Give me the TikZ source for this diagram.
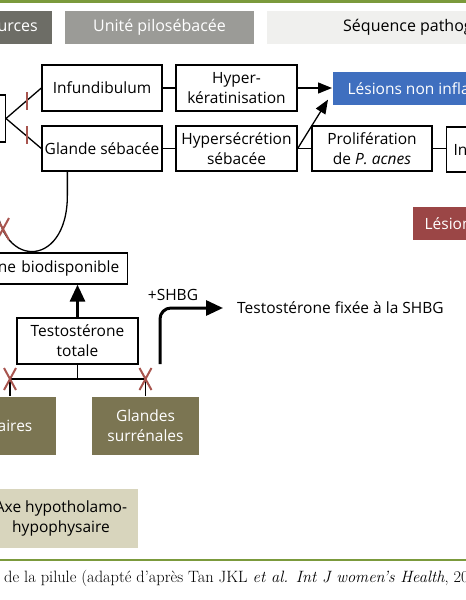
\documentclass[tikz,border=0pt]{standalone}
\usepackage{fontspec}
\setsansfont{Open Sans}
\usepackage{tikz}
\usetikzlibrary{arrows.meta}
\usetikzlibrary{calc}

\definecolor{rulegreen}{HTML}{7B9A3C}
\definecolor{hdrdark}{HTML}{6D6D66}
\definecolor{hdrmid}{HTML}{9B9B97}
\definecolor{hdrlight}{HTML}{F0F0EE}
\definecolor{lesblue}{HTML}{3F6FBF}
\definecolor{lesred}{HTML}{9B4646}
\definecolor{olive}{HTML}{7B7552}
\definecolor{beige}{HTML}{D8D5BD}
\definecolor{xred}{HTML}{A8554F}

\begin{document}
\begin{tikzpicture}[x=1pt,y=-1pt,
        box/.style={draw,line width=1.3pt,align=center,inner sep=0pt,
            font=\sffamily\fontsize{15.5}{20}\selectfont},
        hdr/.style={minimum height=33pt,inner ysep=0pt,
            font=\sffamily\fontsize{16}{20}\selectfont},
        link/.style={line width=1.3pt},
        slimarrow/.style={line width=1.3pt,-{Triangle[length=14pt,width=11pt]}},
        fatarrow/.style={line width=3pt,-{Triangle[length=17pt,width=15pt]}},
        redmark/.style={draw=xred,line width=2pt}]
        \path[use as bounding box,clip] (0,0) rectangle (466,600);

        % rules top and bottom
        \draw[rulegreen,line width=2.5pt] (0,1.5) -- (466,1.5);
        \draw[rulegreen,line width=2.5pt] (0,560) -- (466,560);

        % header line
        \node[hdr,fill=hdrdark,text=white,anchor=east,inner xsep=14pt] (hsrc) at (52,27.5) {urces};
        \node[hdr,fill=hdrmid,text=white,minimum width=189pt] (hunit) at (159.5,27.5) {Unité pilosébacée};
        \node[hdr,fill=hdrlight,anchor=west,inner xsep=76pt] (hseq) at (267,27.5) {Séquence pathog};

        % upper rows
        \node[box,minimum width=46pt,minimum height=47pt,anchor=east] (src) at (6,118.5) {};
        \node[box,minimum width=120pt,minimum height=46pt] (infu) at (102,88) {Infundibulum};
        \node[box,minimum width=120pt,minimum height=45pt] (glande) at (102,148.5) {Glande sébacée};
        \node[box,minimum width=121pt,minimum height=46pt] (hyperk) at (236.5,88) {Hyper-\\kératinisation};
        \node[box,minimum width=121pt,minimum height=45pt] (hypers) at (236.5,148.5) {Hypersécrétion\\sébacée};
        \node[box,minimum width=120pt,minimum height=45pt] (prolif) at (372,148.5) {Prolifération\\de \textit{P. acnes}};
        \node[box,minimum height=45pt,anchor=west,inner xsep=7pt] (inflam) at (446,149.5) {In};
        \node[box,draw=none,fill=lesblue,text=white,minimum height=33pt,anchor=west,inner xsep=15pt] (lnonin) at (332,88.5) {Lésions non infla};
        \node[box,draw=none,fill=lesred,text=white,minimum height=33pt,anchor=west,inner xsep=12pt] (linfl) at (412,223.5) {Lésion};

        \coordinate (fork) at (src.east);
        \draw[link] (fork) -- (infu.west);
        \draw[link] (fork) -- (glande.west);
        \draw[link] (infu) -- (hyperk);
        \draw[link] (glande) -- (hypers);
        \draw[link] (hypers) -- (prolif);
        \draw[link] (prolif.east) -- (inflam.west |- prolif.east);
        \draw[slimarrow] (hyperk.east) -- (hyperk.east -| lnonin.west);
        \draw[slimarrow] (hypers.east) -- ([xshift=-4pt,yshift=6pt]lnonin.south west);
        % blocked links
        \draw[redmark] (27,92) -- (27,110);
        \draw[redmark] (27,126) -- (27,144);

        % loop from the gland
        \coordinate (gbot) at ($(glande.south west)+(26,0)$);
        \draw[link] (gbot) -- ++(0,24) .. controls ++(0,75) and (-4,270) .. (-4,195) -- (-4,150);

        % testosterone
        \node[box,text width=185pt,align=right,inner xsep=8pt,minimum height=31pt,anchor=east] (biodisp) at (128,268.5) {one biodisponible};
        \node[box,minimum width=121pt,minimum height=46pt] (totale) at (77.5,341) {Testostérone\\totale};
        \draw[fatarrow] (totale.north) -- (totale.north |- biodisp.south);

        \node[font=\sffamily\fontsize{15.5}{20}\selectfont,inner sep=0pt] (shbg) at (173,295) {+SHBG};
        \node[font=\sffamily\fontsize{15.5}{20}\selectfont,anchor=west,inner xsep=14pt] (fixee) at (223,308) {Testostérone fixée à la SHBG};
        \coordinate (fstart) at (160,364);
        \draw[fatarrow,rounded corners=11pt] (fstart) |- (fixee.west);

        % sources
        \node[box,draw=none,fill=olive,text=white,text width=83pt,align=right,inner xsep=24pt,minimum height=58pt,anchor=east] (ovaires) at (57,426) {aires};
        \node[box,draw=none,fill=olive,text=white,minimum width=107pt,minimum height=58pt] (surr) at (145.5,426) {Glandes\\surrénales};
        \node[box,draw=none,fill=beige,minimum width=154pt,minimum height=59pt] (axe) at (61,518.5) {Axe hypotholamo-\\hypophysaire};

        \coordinate (jl) at (10,379);
        \coordinate (jr) at (145.5,379);
        \draw[link] (totale.south) -- (totale.south |- jl);
        \draw[link] (jl) -- (jr);
        \draw[link] (jl) -- (jl |- ovaires.north);
        \draw[link] (jr) -- (surr.north);

        % red crosses
        \foreach \cx/\cy in {3/229,10/379,145.5/379}
            \draw[redmark] (\cx-6,\cy-11) -- (\cx+6,\cy+11) (\cx+6,\cy-11) -- (\cx-6,\cy+11);

        % caption
        \node[anchor=west,inner sep=0pt,font=\fontsize{16.4}{18}\selectfont] (caption) at (4,578) {de la pilule (adapté d’après Tan JKL \textit{et al. Int J women’s Health}, 20};
    \end{tikzpicture}
\end{document}
